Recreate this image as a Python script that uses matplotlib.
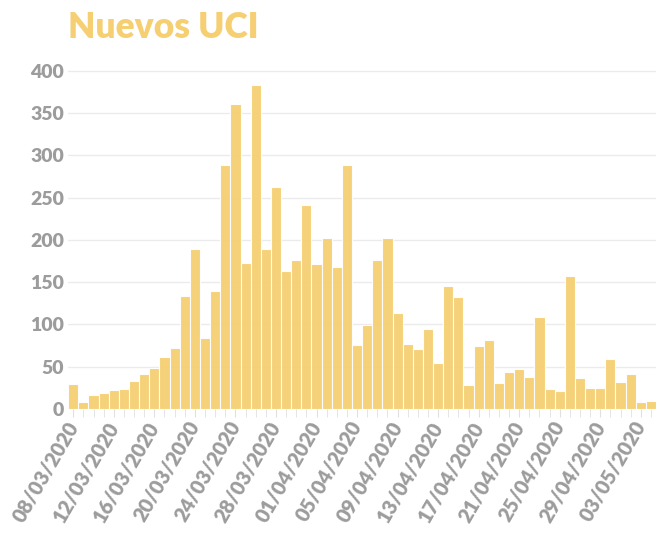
import numpy as np
import pandas as pd
import matplotlib.pyplot as plt

plt.rcParams['font.family'] = ['Lato', 'DejaVu Sans']

fechas = pd.date_range('2020-03-08', '2020-05-04', freq='D')
nuevos_uci = [30, 8, 16, 19, 22, 23, 33, 41, 48, 61,
              72, 134, 189, 84, 139, 289, 361, 173, 383, 189,
              262, 163, 176, 241, 172, 202, 168, 289, 76, 99,
              176, 202, 113, 77, 71, 94, 54, 145, 132, 28,
              74, 82, 31, 44, 47, 38, 109, 24, 21, 157,
              37, 25, 25, 59, 32, 41, 8, 9]
etiquetas = [f.strftime('%d/%m/%Y') for f in fechas]

fig = plt.figure(figsize=(6.56, 5.38), dpi=100)
ax = fig.add_axes([0.104, 0.24, 0.896, 0.644])

x = np.arange(len(nuevos_uci))
ax.bar(x, nuevos_uci, width=1.0, color='#f5cf72', alpha=0.95,
       edgecolor='white', linewidth=0.8, zorder=2)

ax.set_xlim(-0.5, len(x) - 0.5)
ax.set_ylim(0, 410)
ax.set_yticks(range(0, 401, 50))
ax.yaxis.grid(True, color='#ebebeb', linewidth=1, zorder=0)

ax.set_xticks(x, minor=True)
ax.set_xticks(x[::4])
ax.set_xticklabels(etiquetas[::4], rotation=60, ha='right', va='center',
                   rotation_mode='anchor', fontsize=14.5, fontweight='heavy',
                   color='#9c9c9c')
ax.tick_params(axis='x', which='both', length=6, color='#e0e0e0', pad=4)
ax.tick_params(axis='y', length=0, labelsize=14, labelcolor='#9c9c9c', pad=3)
for lab in ax.get_yticklabels():
    lab.set_fontweight('heavy')

for s in ax.spines.values():
    s.set_visible(False)

fig.text(0.104, 0.948, 'Nuevos UCI', fontsize=25.5, fontweight='heavy',
         color='#f5cf72', ha='left', va='center')

fig.savefig('out.png', dpi=100)
